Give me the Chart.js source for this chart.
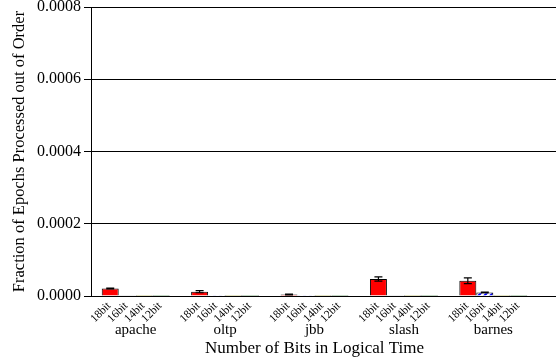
<!DOCTYPE html>
<html>
<head>
<meta charset="utf-8">
<script src="https://cdn.jsdelivr.net/npm/chart.js@4/dist/chart.umd.min.js"></script>
<style>
html,body{margin:0;padding:0;background:#fff;}
#wrap{width:557px;height:360px;position:relative;}
</style>
</head>
<body>
<div id="wrap"><canvas id="c" width="557" height="360"></canvas></div>
<script>
// ---- data ----
const groups = ['apache', 'oltp', 'jbb', 'slash', 'barnes'];
const bitLabels = ['18bit', '16bit', '14bit', '12bit'];
const vals18 = [0.000021, 0.000012, 0.000004, 0.000047, 0.000042];
const vals16 = [0.000002, 0.0000005, 0.0000005, 0.000002, 0.000010];
const vals14 = [0.0000003, 0.0000003, 0.0000003, 0.0000003, 0.0000003];
const vals12 = [0.0000003, 0.0000003, 0.0000003, 0.0000003, 0.0000003];
const err18 = [0.000001, 0.000003, 0.000001, 0.000006, 0.000008];
const err16 = [0, 0, 0, 0, 0.000001];
const err14 = [0, 0, 0, 0, 0];
const err12 = [0, 0, 0, 0, 0];
const yTicks = [0, 0.0002, 0.0004, 0.0006, 0.0008];

const SERIF = '"Liberation Serif", "Times New Roman", serif';

function hatch(fg, bg) {
  const p = document.createElement('canvas');
  p.width = 6; p.height = 6;
  const g = p.getContext('2d');
  g.fillStyle = bg; g.fillRect(0, 0, 6, 6);
  g.strokeStyle = fg; g.lineWidth = 2;
  g.beginPath();
  g.moveTo(-1, 7); g.lineTo(7, -1);
  g.moveTo(-4, 4); g.lineTo(4, -4);
  g.moveTo(2, 10); g.lineTo(10, 2);
  g.stroke();
  return g.createPattern(p, 'repeat');
}

const seriesVals = [vals18, vals16, vals14, vals12];
const seriesErr = [err18, err16, err14, err12];
const fills = ['#ff0000', hatch('#0000ff', '#ffffff'), '#ffff00', '#00a000'];

const datasets = bitLabels.map((b, i) => ({
  label: b,
  data: seriesVals[i],
  errors: seriesErr[i],
  backgroundColor: fills[i],
  borderColor: '#000',
  borderWidth: 1,
  borderSkipped: 'bottom',
  categoryPercentage: 0.76,
  barPercentage: 1.0
}));

const extras = {
  id: 'extras',
  beforeDatasetsDraw(chart) {
    const c = chart.ctx, y = chart.scales.y;
    c.save();
    c.strokeStyle = '#000';
    c.lineWidth = 1;
    yTicks.forEach(t => {
      const py = Math.round(y.getPixelForValue(t) - 0.5) + 0.5;
      c.beginPath();
      c.moveTo(chart.chartArea.right - 1, py);
      c.lineTo(chart.width - 1, py);
      c.stroke();
    });
    c.restore();
  },
  afterDatasetsDraw(chart) {
    const c = chart.ctx, y = chart.scales.y;
    c.save();
    c.strokeStyle = '#000';
    c.lineWidth = 1.2;
    chart.data.datasets.forEach((ds, di) => {
      const meta = chart.getDatasetMeta(di);
      meta.data.forEach((bar, i) => {
        const e = ds.errors[i];
        if (!e) return;
        const v = ds.data[i];
        const y1 = y.getPixelForValue(v + e), y2 = y.getPixelForValue(Math.max(0, v - e));
        c.beginPath();
        c.moveTo(bar.x, y1); c.lineTo(bar.x, y2);
        c.moveTo(bar.x - 4, y1); c.lineTo(bar.x + 4, y1);
        c.moveTo(bar.x - 4, y2); c.lineTo(bar.x + 4, y2);
        c.stroke();
      });
    });
    // rotated bit labels
    c.fillStyle = '#000';
    c.font = '11.5px ' + SERIF;
    c.textAlign = 'right';
    c.textBaseline = 'middle';
    const base = chart.chartArea.bottom;
    chart.data.datasets.forEach((ds, di) => {
      const meta = chart.getDatasetMeta(di);
      meta.data.forEach(bar => {
        c.save();
        c.translate(bar.x - 1, base + 8);
        c.rotate(-Math.PI / 4);
        c.fillText(ds.label, 0, 0);
        c.restore();
      });
    });
    c.restore();
  }
};

new Chart(document.getElementById('c'), {
  type: 'bar',
  data: { labels: groups, datasets },
  options: {
    responsive: false,
    animation: false,
    devicePixelRatio: 1,
    layout: { padding: { top: 7, right: 19, bottom: 0, left: 0 } },
    plugins: { legend: { display: false }, tooltip: { enabled: false } },
    scales: {
      x: {
        grid: { display: false },
        border: { display: true, color: '#000', width: 1 },
        ticks: {
          color: '#000',
          font: { family: SERIF, size: 15 },
          padding: 17,
          maxRotation: 0,
          autoSkip: false
        },
        title: {
          display: true,
          text: 'Number of Bits in Logical Time',
          color: '#000',
          font: { family: SERIF, size: 17 },
          padding: { top: 0, bottom: 1 }
        },
        afterFit(s) { s.height = 64; s.paddingLeft = 0; s.paddingRight = 0; }
      },
      y: {
        min: 0,
        max: 0.0008,
        afterBuildTicks(s) { s.ticks = yTicks.map(v => ({ value: v })); },
        grid: { color: '#000', lineWidth: 1, tickLength: 7, drawTicks: true },
        border: { display: true, color: '#000', width: 1 },
        ticks: {
          color: '#000',
          font: { family: SERIF, size: 16 },
          padding: 3,
          callback: v => Number(v).toFixed(4)
        },
        title: {
          display: true,
          text: 'Fraction of Epochs Processed out of Order',
          color: '#000',
          font: { family: SERIF, size: 16.5 },
          padding: { top: 10, bottom: 0 }
        },
        afterFit(s) { s.width = 91; s.paddingTop = 0; s.paddingBottom = 0; }
      }
    }
  },
  plugins: [extras]
});
</script>
</body>
</html>
